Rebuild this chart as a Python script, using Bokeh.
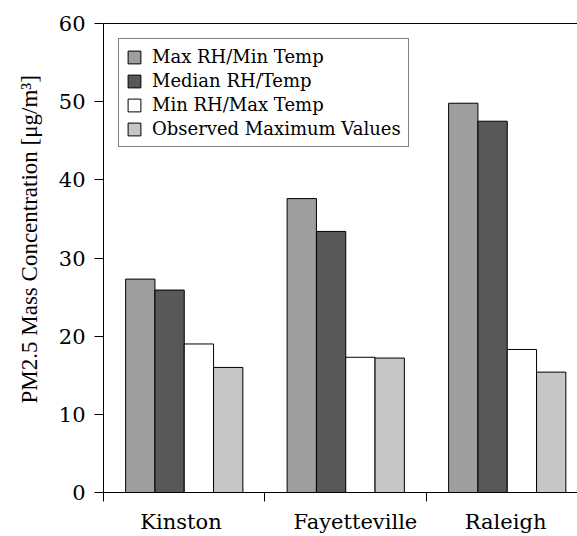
import numpy as np
from bokeh.plotting import figure
from bokeh.models import Range1d, FixedTicker, LinearAxis, Legend, LegendItem, Title
from bokeh.embed import file_html
from bokeh.resources import INLINE

# ---- data ----
cities = ["Kinston", "Fayetteville", "Raleigh"]
series_names = ["Max RH/Min Temp", "Median RH/Temp", "Min RH/Max Temp", "Observed Maximum Values"]
max_rh_min_temp = [27.3, 37.6, 49.8]
median_rh_temp = [25.9, 33.4, 47.5]
min_rh_max_temp = [19.0, 17.3, 18.3]
observed_max = [16.0, 17.2, 15.4]
y_ticks = [0, 10, 20, 30, 40, 50, 60]
y_label = "PM2.5 Mass Concentration [\u03bcg/m\u00b3]"

# ---- style ----
colors = ["#9d9ea0", "#58585a", "#ffffff", "#c5c6c8"]
bar_w = 0.1815
label_shift = [-0.02, 0.06, -0.01]
TITLE_FONT = "Liberation Serif, Times New Roman, Times, serif"
AX_FONT = "DejaVu Serif"

p = figure(width=577, height=536, output_backend="svg", toolbar_location=None,
           x_range=Range1d(0, 2.935), y_range=Range1d(0, 60),
           min_border_left=103, min_border_right=0, min_border_top=23, min_border_bottom=44)
p.xgrid.visible = False
p.ygrid.visible = False
p.outline_line_color = None
p.background_fill_color = "white"

all_series = [max_rh_min_temp, median_rh_temp, min_rh_max_temp, observed_max]
items = []
for j, vals in enumerate(all_series):
    xs = [i + 0.5 + (j - 1.5) * bar_w for i in range(len(cities))]
    r = p.vbar(x=xs, top=vals, width=bar_w, bottom=0, fill_color=colors[j],
               line_color="black", line_width=1)
    items.append(LegendItem(label=series_names[j], renderers=[r]))

label_pos = [i + 0.5 + label_shift[i] for i in range(len(cities))]
xa = p.xaxis[0]
xa.ticker = FixedTicker(ticks=label_pos, minor_ticks=[0, 1, 2, 3])
xa.major_label_overrides = {pos: c for pos, c in zip(label_pos, cities)}
xa.major_tick_line_color = None
xa.major_tick_out = 0
xa.major_tick_in = 0
xa.minor_tick_out = 9
xa.minor_tick_in = 0
xa.minor_tick_line_color = "black"
xa.axis_line_color = "black"
xa.major_label_text_font = AX_FONT
xa.major_label_text_font_size = "21px"
xa.major_label_text_color = "black"
xa.major_label_standoff = 8

ya = p.yaxis[0]
ya.ticker = FixedTicker(ticks=y_ticks)
ya.major_tick_out = 9
ya.major_tick_in = 0
ya.minor_tick_line_color = None
ya.axis_line_color = "black"
ya.major_tick_line_color = "black"
ya.major_label_text_font = AX_FONT
ya.major_label_text_font_size = "21px"
ya.major_label_text_color = "black"
ya.major_label_standoff = 9

top_axis = LinearAxis(ticker=FixedTicker(ticks=[]), major_label_text_font_size="0px",
                      major_tick_line_color=None, minor_tick_line_color=None,
                      axis_line_color="black", major_label_standoff=0)
p.add_layout(top_axis, "above")

ttl = Title(text=y_label, align="left", offset=89, standoff=27,
            text_font=TITLE_FONT, text_font_size="23px", text_font_style="normal",
            text_color="black")
p.add_layout(ttl, "left")

legend = Legend(items=items, location="top_left", margin=15, padding=7, spacing=3,
                glyph_width=16, glyph_height=16, label_standoff=10,
                label_text_font=AX_FONT, label_text_font_size="18px", label_text_color="black",
                border_line_color="black", border_line_width=1, background_fill_alpha=1)
p.add_layout(legend)

open("out.html", "w").write(file_html(p, INLINE))
